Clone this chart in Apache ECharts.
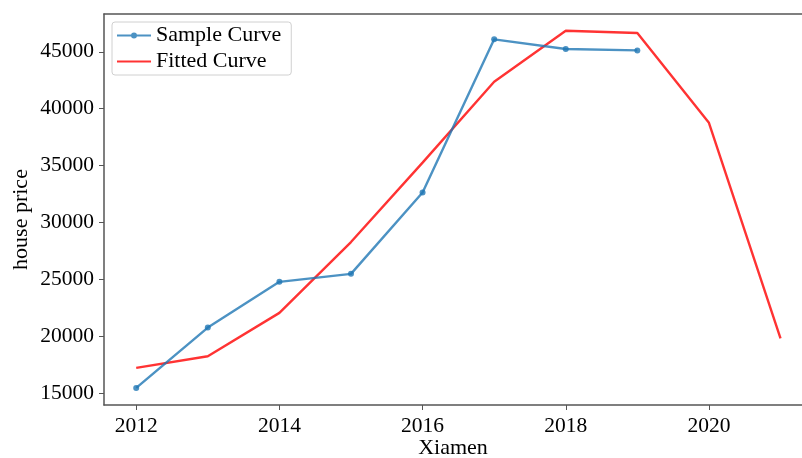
<!DOCTYPE html>
<html>
<head>
<meta charset="utf-8">
<script src="https://cdn.jsdelivr.net/npm/echarts@6/dist/echarts.min.js"></script>
<style>
  html, body { margin: 0; padding: 0; background: #ffffff; }
  #chart { width: 802px; height: 458px; }
</style>
</head>
<body>
<div id="chart"></div>
<script>
// Xiamen house prices: observed samples and the fitted curve
const sampleYears = [2012, 2013, 2014, 2015, 2016, 2017, 2018, 2019];
const sampleValues = [15440, 20750, 24770, 25470, 32630, 46090, 45240, 45120];
const fittedYears = [2012, 2013, 2014, 2015, 2016, 2017, 2018, 2019, 2020, 2021];
const fittedValues = [17200, 18230, 22040, 28270, 35250, 42360, 46850, 46650, 38750, 19790];
const xTicks = [2012, 2014, 2016, 2018, 2020];
const yTicks = [15000, 20000, 25000, 30000, 35000, 40000, 45000];

const FONT = '"Liberation Serif", "Times New Roman", serif';
const SPINE = '#555555';
const BLUE = 'rgba(31,119,180,0.8)';
const RED = 'rgba(255,0,0,0.8)';

const xMin = 2011.55, xMax = 2021.3;
const yMin = 13940, yMax = 48320;

// legend handles: a line with a dot for the samples, a plain line for the fit
const sampleIcon = 'path://M0,4 L34,4 L34,6 L0,6 Z M17,2 A3,3 0 1 1 17,8 A3,3 0 1 1 17,2 Z';
const fittedIcon = 'path://M0,0 L34,0 L34,2.2 L0,2.2 Z';

const chart = echarts.init(document.getElementById('chart'), null, { renderer: 'canvas' });

chart.setOption({
  animation: false,
  backgroundColor: '#ffffff',
  textStyle: { fontFamily: FONT },
  grid: { left: 104, right: 0, top: 14, bottom: 53, containLabel: false, outerBoundsMode: 'none' },
  legend: {
    left: 112, top: 22,
    orient: 'vertical',
    itemWidth: 34, itemHeight: 8, itemGap: 3,
    padding: [2, 10, 2, 5],
    borderColor: '#d0d0d0', borderWidth: 1, borderRadius: 3,
    backgroundColor: '#ffffff',
    textStyle: { fontFamily: FONT, fontSize: 22, color: '#000', lineHeight: 23 },
    data: [
      { name: 'Sample Curve', icon: sampleIcon, itemStyle: { color: BLUE } },
      { name: 'Fitted Curve', icon: fittedIcon, itemStyle: { color: RED } }
    ]
  },
  xAxis: [{
    type: 'value', min: xMin, max: xMax,
    name: 'Xiamen', nameLocation: 'middle', nameGap: 32, nameMoveOverlap: false,
    nameTextStyle: { fontFamily: FONT, fontSize: 22, color: '#000' },
    splitLine: { show: false },
    axisLine: { show: true, lineStyle: { color: SPINE, width: 1.5 } },
    axisTick: { show: true, customValues: xTicks, length: 5, lineStyle: { color: SPINE, width: 1 } },
    axisLabel: { customValues: xTicks, margin: 10, fontFamily: FONT, fontSize: 21.5, color: '#000',
                 formatter: v => String(v) }
  }, {
    type: 'value', min: xMin, max: xMax, position: 'top',
    splitLine: { show: false },
    axisLine: { show: true, lineStyle: { color: SPINE, width: 1.5 } },
    axisTick: { show: false }, axisLabel: { show: false }
  }],
  yAxis: {
    type: 'value', min: yMin, max: yMax,
    name: 'house price', nameLocation: 'middle', nameGap: 72, nameRotate: 90, nameMoveOverlap: false,
    nameTextStyle: { fontFamily: FONT, fontSize: 22, color: '#000', padding: [0, 20, 0, 0] },
    splitLine: { show: false },
    axisLine: { show: true, lineStyle: { color: SPINE, width: 1.5 } },
    axisTick: { show: true, customValues: yTicks, length: 5, lineStyle: { color: SPINE, width: 1 } },
    axisLabel: { customValues: yTicks, margin: 10, fontFamily: FONT, fontSize: 21.5, color: '#000',
                 formatter: v => String(v) }
  },
  series: [{
    name: 'Sample Curve', type: 'line',
    data: sampleYears.map((y, i) => [y, sampleValues[i]]),
    symbol: 'circle', symbolSize: 6, showSymbol: true,
    lineStyle: { color: BLUE, width: 2.4 },
    itemStyle: { color: BLUE, borderWidth: 0 },
    z: 3
  }, {
    name: 'Fitted Curve', type: 'line',
    data: fittedYears.map((y, i) => [y, fittedValues[i]]),
    symbol: 'none',
    lineStyle: { color: RED, width: 2.4 },
    itemStyle: { color: RED },
    z: 2
  }]
});
</script>
</body>
</html>
